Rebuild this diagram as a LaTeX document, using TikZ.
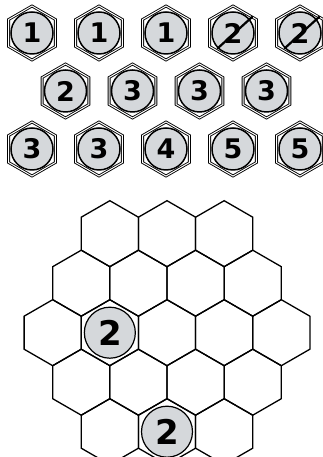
\documentclass[tikz,border=0pt]{standalone}
\usepackage{fontspec}
\setmainfont{DejaVu Sans}
\usetikzlibrary{shapes.geometric}
\definecolor{chipc}{HTML}{D5D8DB}
\tikzset{
  cell/.style    ={draw,line width=1.3pt,regular polygon,regular polygon sides=6,
                   shape border rotate=30,minimum size=66pt,inner sep=0pt,outer sep=0pt},
  tilehex/.style ={cell,minimum size=54pt,line width=0.9pt,double,double distance=1pt},
  chip/.style    ={circle,draw,line width=1.5pt,fill=chipc,minimum size=42pt,
                   inner sep=0pt,font=\bfseries\fontsize{27}{27}\selectfont},
  bigchip/.style ={chip,minimum size=51pt,line width=1.2pt,font=\bfseries\fontsize{34}{34}\selectfont},
  strike/.style  ={line width=2.2pt,line cap=round},
}

\begin{document}
\begin{tikzpicture}[x=1pt,y=1pt]
  \useasboundingbox (0,0) rectangle (323,457);
  \clip (0,0) rectangle (323,457);
  % the tiles to place
  \foreach \n/\x/\y/\v in {a1/32/424/1,a2/99/424/1,a3/166/424/1,a4/233/424/2,a5/300/424/2,
                           b1/65.5/366/2,b2/132.5/366/3,b3/199.5/366/3,b4/266.5/366/3,
                           c1/32/308/3,c2/99/308/3,c3/166/308/4,c4/233/308/5,c5/300/308/5}{
    \node[tilehex] (h\n) at (\x,\y) {};
    \node[chip]    (c\n) at (\x,\y) {\v};
  }
  \draw[strike] (ca4.225) -- (ha4.40);
  \draw[strike] (ca5.225) -- (ha5.40);
  % the board
  \foreach \r in {0,...,4}{
    \pgfmathtruncatemacro{\n}{5-abs(\r-2)}
    \foreach \k in {1,...,\n}{
      \node[cell] (b\r\k) at ({167+(\k-(\n+1)/2)*57.16},{223.3-49.5*\r}) {};
    }
  }
  \node[bigchip] (p1) at (b22) {2};
  \node[bigchip] (p2) at (b42) {2};
\end{tikzpicture}
\end{document}
